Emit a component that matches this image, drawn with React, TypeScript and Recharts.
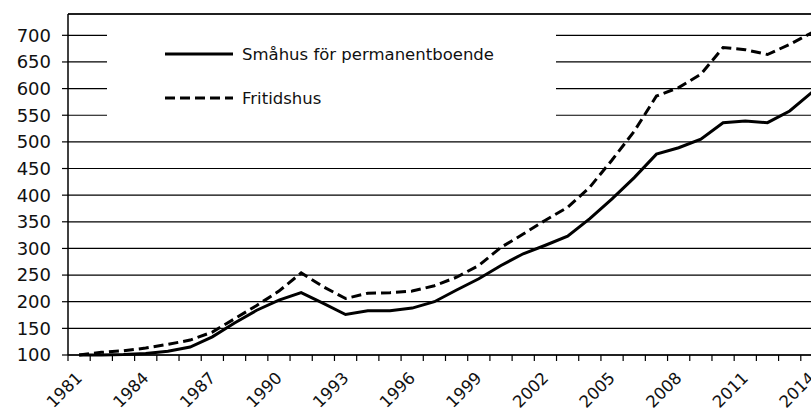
import { LineChart, Line, XAxis, YAxis, CartesianGrid, ReferenceLine } from 'recharts';

// Prisindex, 1981 = 100
const years = [
  1981, 1982, 1983, 1984, 1985, 1986, 1987, 1988, 1989, 1990, 1991, 1992,
  1993, 1994, 1995, 1996, 1997, 1998, 1999, 2000, 2001, 2002, 2003, 2004,
  2005, 2006, 2007, 2008, 2009, 2010, 2011, 2012, 2013, 2014,
];
const smahus = [
  100, 100, 101, 103, 107, 115, 134, 160, 184, 203, 217, 197,
  176, 183, 183, 188, 200, 222, 243, 268, 290, 306, 323, 356,
  393, 433, 477, 489, 505, 536, 539, 536, 558, 593,
];
const fritidshus = [
  100, 105, 108, 113, 120, 128, 143, 168, 193, 220, 254, 228,
  206, 216, 217, 220, 230, 246, 268, 302, 327, 353, 377, 415,
  466, 520, 586, 602, 627, 677, 673, 664, 683, 705,
];
const yearLabels = [1981, 1984, 1987, 1990, 1993, 1996, 1999, 2002, 2005, 2008, 2011, 2014];
const yTicks = [100, 150, 200, 250, 300, 350, 400, 450, 500, 550, 600, 650, 700];

const data = years.map((year, i) => ({ year, smahus: smahus[i], fritidshus: fritidshus[i] }));

// tick marks sit between the categories, labels on them
const boundaries = [...years.map((y) => y - 0.5), years[years.length - 1] + 0.5];

const FONT = '"DejaVu Sans", Verdana, sans-serif';

const XTick = ({ x, y, payload }: any) => {
  const v = payload.value;
  if (!Number.isInteger(v)) {
    return <line x1={x} x2={x} y1={y} y2={y + 6} stroke="#000" strokeWidth={1.2} />;
  }
  const tx = x + 4;
  const ty = y + 24;
  return (
    <text
      x={tx}
      y={ty}
      transform={`rotate(-45 ${tx} ${ty})`}
      textAnchor="end"
      fill="#111"
      fontSize={16.5}
      fontFamily={FONT}
    >
      {v}
    </text>
  );
};

function LegendRow({ dashed, label, top }: { dashed?: boolean; label: string; top: number }) {
  return (
    <div style={{ position: 'absolute', left: 58, top, display: 'flex', alignItems: 'center', height: 20 }}>
      <svg width={70} height={20}>
        <line x1={0} x2={68} y1={10} y2={10} stroke="#000" strokeWidth={3} strokeDasharray={dashed ? '10 5' : undefined} />
      </svg>
      <span style={{ marginLeft: 7, fontFamily: FONT, fontSize: 16.5, color: '#111', whiteSpace: 'nowrap' }}>{label}</span>
    </div>
  );
}

export default function App() {
  return (
    <div style={{ position: 'absolute', left: 0, top: 0, width: 811, height: 414, overflow: 'hidden', background: '#fff' }}>
      <LineChart width={840} height={414} data={data} margin={{ top: 14, right: 17, bottom: 0, left: 8 }}>
        <CartesianGrid vertical={false} stroke="#000" strokeWidth={1.2} />
        <XAxis
          dataKey="year"
          type="number"
          domain={[1980.5, 2014.5]}
          ticks={[...boundaries, ...yearLabels]}
          interval={0}
          tickLine={false}
          tickSize={0}
          tickMargin={0}
          tick={<XTick />}
          axisLine={{ stroke: '#000', strokeWidth: 1.5 }}
          height={59}
        />
        <YAxis
          domain={[100, 740]}
          ticks={yTicks}
          interval={0}
          width={60}
          tickSize={6}
          tickMargin={11}
          tickLine={{ stroke: '#000', strokeWidth: 1.2 }}
          axisLine={{ stroke: '#000', strokeWidth: 1.5 }}
          tick={{ fill: '#111', fontSize: 18, fontFamily: FONT }}
        />
        <ReferenceLine y={740} stroke="#000" strokeWidth={1.5} />
        <Line
          type="linear"
          dataKey="fritidshus"
          stroke="#000"
          strokeWidth={3}
          strokeDasharray="10 5"
          dot={false}
          isAnimationActive={false}
        />
        <Line type="linear" dataKey="smahus" stroke="#000" strokeWidth={3} dot={false} isAnimationActive={false} />
      </LineChart>
      <div style={{ position: 'absolute', left: 107, top: 16, width: 449, height: 110, background: '#fff' }}>
        <LegendRow label="Småhus för permanentboende" top={28} />
        <LegendRow dashed label="Fritidshus" top={72} />
      </div>
    </div>
  );
}
